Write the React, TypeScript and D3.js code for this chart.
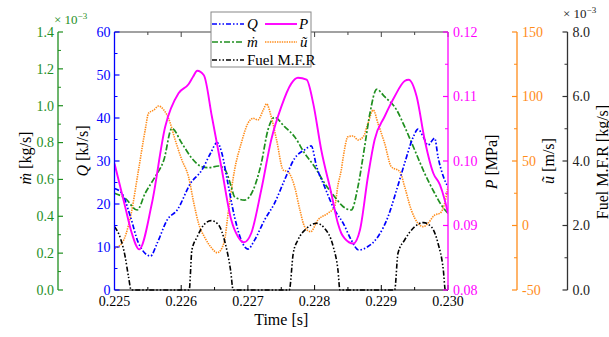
import React from 'react';
import * as d3 from 'd3';

// ---------- data ----------
const timeTicks = [0.225, 0.226, 0.227, 0.228, 0.229, 0.23];
const qTicks = [0, 10, 20, 30, 40, 50, 60];
const mTicks = [0, 0.2e-3, 0.4e-3, 0.6e-3, 0.8e-3, 1.0e-3, 1.2e-3, 1.4e-3];
const pTicks = [0.08, 0.09, 0.1, 0.11, 0.12];
const uTicks = [-50, 0, 50, 100, 150];
const fTicks = [0, 2e-3, 4e-3, 6e-3, 8e-3];

const qT = [0.225, 0.22511, 0.22524, 0.22536, 0.22554, 0.22564, 0.22579, 0.22594, 0.22614, 0.22631, 0.22644, 0.22654, 0.22661, 0.22669, 0.2268, 0.2269, 0.227, 0.2271, 0.22725, 0.2274, 0.22755, 0.2277, 0.22785, 0.22795, 0.22803, 0.22815, 0.2283, 0.22843, 0.22855, 0.22866, 0.2288, 0.22895, 0.2291, 0.22923, 0.22935, 0.22948, 0.22955, 0.22963, 0.2297, 0.2298, 0.22985, 0.22993, 0.23];
const qV = [23.6, 22.5, 17.0, 10.9, 7.9, 10.9, 16.3, 18.6, 24.8, 27.9, 31.8, 34.3, 31.8, 25.6, 17.0, 11.6, 9.5, 11.6, 16.3, 20.2, 25.6, 30.6, 32.6, 33.5, 28.7, 24.0, 18.6, 15.5, 11.6, 9.3, 10.1, 12.4, 17.0, 23.3, 29.5, 35.6, 37.4, 35.6, 33.7, 35.3, 31.0, 26.4, 24.0];

const pT = [0.225, 0.22516, 0.22526, 0.22537, 0.22556, 0.22576, 0.22596, 0.22611, 0.22618, 0.22624, 0.22634, 0.22646, 0.22661, 0.22675, 0.22685, 0.22694, 0.22705, 0.2272, 0.22735, 0.2275, 0.22765, 0.22775, 0.22788, 0.22798, 0.2281, 0.22825, 0.22835, 0.2284, 0.22845, 0.22858, 0.22868, 0.2288, 0.2289, 0.22905, 0.2292, 0.22935, 0.22941, 0.22953, 0.22965, 0.22978, 0.22988, 0.22995, 0.23];
const pV = [0.0996, 0.0929, 0.0888, 0.0863, 0.0934, 0.1053, 0.1105, 0.1119, 0.1131, 0.114, 0.1133, 0.1069, 0.0986, 0.0909, 0.0883, 0.0874, 0.0888, 0.0955, 0.1033, 0.1084, 0.112, 0.1129, 0.1126, 0.1089, 0.1017, 0.095, 0.0903, 0.0888, 0.088, 0.0872, 0.0893, 0.0976, 0.1033, 0.1069, 0.11, 0.1124, 0.1126, 0.11, 0.1033, 0.0981, 0.0963, 0.094, 0.0919];

const mT = [0.225, 0.22516, 0.22534, 0.22546, 0.22561, 0.22574, 0.22586, 0.22601, 0.22616, 0.22631, 0.22641, 0.22656, 0.22666, 0.22675, 0.2268, 0.22695, 0.22708, 0.2272, 0.2273, 0.2274, 0.22755, 0.2277, 0.22785, 0.228, 0.22815, 0.2283, 0.22843, 0.22855, 0.22865, 0.22875, 0.22883, 0.22893, 0.22905, 0.22923, 0.22935, 0.2295, 0.22965, 0.2298, 0.2299, 0.23];
const mV = [0.525, 0.498, 0.434, 0.525, 0.615, 0.705, 0.877, 0.796, 0.715, 0.669, 0.664, 0.673, 0.651, 0.561, 0.506, 0.488, 0.543, 0.687, 0.868, 0.937, 0.886, 0.832, 0.742, 0.669, 0.579, 0.506, 0.452, 0.434, 0.561, 0.778, 0.959, 1.089, 1.049, 0.977, 0.886, 0.76, 0.633, 0.525, 0.461, 0.416].map(v => v * 1e-3);

const uT = [0.225, 0.22511, 0.22524, 0.22536, 0.22546, 0.22551, 0.22559, 0.22566, 0.22574, 0.22581, 0.22591, 0.22601, 0.22611, 0.22619, 0.22626, 0.22636, 0.22646, 0.22654, 0.22664, 0.22671, 0.2268, 0.2269, 0.227, 0.22708, 0.22715, 0.22723, 0.22728, 0.22735, 0.22743, 0.22753, 0.2276, 0.2277, 0.22778, 0.22785, 0.22794, 0.22805, 0.2282, 0.2283, 0.22835, 0.2284, 0.22843, 0.2285, 0.22858, 0.22865, 0.22873, 0.2288, 0.22888, 0.22895, 0.22905, 0.22915, 0.22928, 0.22935, 0.22945, 0.22955, 0.22963, 0.2297, 0.2298, 0.22988, 0.22995, 0.23];
const uV = [-17.7, -13.8, 6.8, 43.0, 74.0, 87.0, 89.5, 92.6, 89.5, 83.1, 66.3, 50.8, 37.8, 17.2, 1.7, -9.9, -17.7, -21.1, -13.8, 12.0, 43.0, 63.7, 79.2, 83.1, 81.8, 89.5, 94.2, 84.3, 66.3, 43.0, 41.7, 30.1, 12.0, -0.9, -4.8, 4.3, 9.5, 14.6, 31.4, 43.0, 53.3, 68.8, 69.4, 66.3, 68.8, 79.2, 89.5, 79.2, 63.7, 45.6, 41.7, 30.1, 12.0, 1.7, -0.9, 1.7, 8.1, 9.5, 17.2, 30.1];

const fT = [0.225, 0.22509, 0.22516, 0.22521, 0.22525, 0.22612, 0.22616, 0.22624, 0.22634, 0.22645, 0.22656, 0.22666, 0.22674, 0.22678, 0.22762, 0.22768, 0.22775, 0.22788, 0.22803, 0.22815, 0.22828, 0.22835, 0.22838, 0.2292, 0.22925, 0.22935, 0.2295, 0.22963, 0.22975, 0.22985, 0.22993, 0.22996, 0.23];
const fV = [1.96, 1.6, 1.03, 0.41, 0, 0, 1.24, 1.65, 2.02, 2.15, 2.02, 1.45, 0.62, 0, 0, 1.14, 1.55, 1.91, 2.07, 1.91, 1.34, 0.62, 0, 0, 1.14, 1.55, 1.96, 2.09, 1.96, 1.45, 0.62, 0, 0].map(v => v * 1e-3);

// ---------- layout ----------
const W = 609, H = 337;
const L = 114.5, R = 448, T = 32, B = 290;
const FONT = "'Liberation Serif', 'DejaVu Serif', 'Times New Roman', Times, serif";

const BLUE = '#0000ff', MAG = '#ff00ff', GREEN = '#1f8f1f', ORANGE = '#ff8c1a', BLACK = '#000';
const DDOT = '5,2,1.5,2,1.5,2';
const DDASH = '6,2,2,2';
const DOT = '1.4,1';

const x = d3.scaleLinear().domain([0.225, 0.23]).range([L, R]);
const yQ = d3.scaleLinear().domain([0, 60]).range([B, T]);
const yP = d3.scaleLinear().domain([0.08, 0.12]).range([B, T]);
const yU = d3.scaleLinear().domain([-50, 150]).range([B, T]);
const yM = d3.scaleLinear().domain([0, 1.4e-3]).range([B, T]);
const yF = d3.scaleLinear().domain([0, 8e-3]).range([B, T]);

function path(ts: number[], vs: number[], ys: d3.ScaleLinear<number, number>) {
  const line = d3.line<number>().x((_, i) => x(ts[i])).y(d => ys(d)).curve(d3.curveMonotoneX);
  return line(vs) || '';
}

function minors(ticks: number[]) {
  const out: number[] = [];
  for (let i = 0; i < ticks.length - 1; i++) out.push((ticks[i] + ticks[i + 1]) / 2);
  return out;
}

type VProps = {
  x0: number; scale: d3.ScaleLinear<number, number>; ticks: number[]; fmt: (v: number) => string;
  color: string; labelSide: 'left' | 'right'; tickDir: number; labelColor?: string;
};
function VAxis({ x0, scale, ticks, fmt, color, labelSide, tickDir, labelColor }: VProps) {
  const mn = minors(ticks);
  return (
    <g>
      <line x1={x0} x2={x0} y1={scale(ticks[0])} y2={scale(ticks[ticks.length - 1])} stroke={color} strokeWidth={1.3} />
      {ticks.map((t, i) => (
        <line key={'M' + i} x1={x0} x2={x0 + tickDir * 5} y1={scale(t)} y2={scale(t)} stroke={color} strokeWidth={1.2} />
      ))}
      {mn.map((t, i) => (
        <line key={'m' + i} x1={x0} x2={x0 + tickDir * 3} y1={scale(t)} y2={scale(t)} stroke={color} strokeWidth={1} />
      ))}
      {ticks.map((t, i) => (
        <text key={'t' + i} x={labelSide === 'left' ? x0 - 4 : x0 + 5} y={scale(t)} dy="0.35em"
          textAnchor={labelSide === 'left' ? 'end' : 'start'} fill={labelColor || color}
          style={{ fontFamily: FONT, fontSize: 14 }}>
          {fmt(t)}
        </text>
      ))}
    </g>
  );
}

function RotLabel({ x0, y0, children }: { x0: number; y0: number; children: React.ReactNode }) {
  return (
    <text transform={`translate(${x0},${y0}) rotate(-90)`} textAnchor="middle" dy="0.35em" fill="#000"
      style={{ fontFamily: FONT, fontSize: 16 }}>
      {children}
    </text>
  );
}

export default function App() {
  const tMinor = minors(timeTicks);
  const allT = [...timeTicks, ...tMinor];
  return (
    <div style={{ position: 'absolute', left: 0, top: 0 }}>
      <svg width={W} height={H} viewBox={`0 0 ${W} ${H}`} style={{ display: 'block', background: '#fff', fontFamily: FONT }}>
        <defs>
          <clipPath id="plotclip"><rect x={L} y={T - 2} width={R - L} height={B - T + 3} /></clipPath>
        </defs>

        {/* frame top & bottom */}
        <line x1={L} x2={R} y1={T} y2={T} stroke="#444" strokeWidth={1.2} />
        <line x1={L} x2={R} y1={B} y2={B} stroke="#000" strokeWidth={1.2} />
        {allT.map((t, i) => {
          const len = timeTicks.includes(t) ? 5 : 3;
          return (
            <g key={'xt' + i}>
              <line x1={x(t)} x2={x(t)} y1={B} y2={B - len} stroke="#000" strokeWidth={1} />
              <line x1={x(t)} x2={x(t)} y1={T} y2={T + len} stroke="#444" strokeWidth={1} />
            </g>
          );
        })}
        {timeTicks.map((t, i) => (
          <text key={'xl' + i} x={x(t)} y={306} textAnchor="middle" fill="#000" style={{ fontFamily: FONT, fontSize: 14 }}>
            {d3.format('.3f')(t)}
          </text>
        ))}
        <text x={(L + R) / 2} y={325} textAnchor="middle" style={{ fontFamily: FONT, fontSize: 16 }}>Time [s]</text>

        {/* curves */}
        <g clipPath="url(#plotclip)" fill="none">
          <path d={path(uT, uV, yU)} stroke={ORANGE} strokeWidth={1.6} strokeDasharray={DOT} />
          <path d={path(mT, mV, yM)} stroke={GREEN} strokeWidth={1.7} strokeDasharray={DDASH} />
          <path d={path(qT, qV, yQ)} stroke={BLUE} strokeWidth={1.7} strokeDasharray={DDOT} />
          <path d={path(fT, fV, yF)} stroke={BLACK} strokeWidth={1.6} strokeDasharray={DDOT} />
          <path d={path(pT, pV, yP)} stroke={MAG} strokeWidth={1.9} />
        </g>

        {/* axes */}
        <VAxis x0={L} scale={yQ} ticks={qTicks} fmt={v => String(v)} color={BLUE} labelSide="left" tickDir={1} />
        <VAxis x0={R} scale={yP} ticks={pTicks} fmt={v => d3.format('.2f')(v)} color={MAG} labelSide="right" tickDir={-1} />
        <VAxis x0={58} scale={yM} ticks={mTicks} fmt={v => d3.format('.1f')(v * 1e3)} color={GREEN} labelSide="left" tickDir={1} />
        <VAxis x0={517} scale={yU} ticks={uTicks} fmt={v => String(v)} color={ORANGE} labelSide="right" tickDir={-1} />
        <VAxis x0={567.5} scale={yF} ticks={fTicks} fmt={v => d3.format('.1f')(v * 1e3)} color="#333" labelSide="right" tickDir={-1} labelColor="#222" />

        {/* multipliers */}
        <text x={54} y={24} fill={GREEN} style={{ fontFamily: FONT, fontSize: 13 }}>× 10<tspan dy={-5} style={{ fontSize: 9 }}>−3</tspan></text>
        <text x={563} y={18} fill="#222" style={{ fontFamily: FONT, fontSize: 13 }}>× 10<tspan dy={-5} style={{ fontSize: 9 }}>−3</tspan></text>

        {/* axis titles */}
        <RotLabel x0={25} y0={158}><tspan fontStyle="italic">ṁ</tspan> [kg/s]</RotLabel>
        <RotLabel x0={82} y0={151}><tspan fontStyle="italic">Q</tspan> [kJ/s]</RotLabel>
        <RotLabel x0={491} y0={162}><tspan fontStyle="italic">P</tspan> [MPa]</RotLabel>
        <RotLabel x0={548} y0={161}><tspan fontStyle="italic">ũ</tspan> [m/s]</RotLabel>
        <RotLabel x0={602} y0={162}>Fuel M.F.R [kg/s]</RotLabel>

        {/* legend */}
        <g style={{ fontFamily: FONT, fontSize: 15 }}>
          <rect x={211} y={12} width={100} height={55} fill="#fff" stroke="#888" strokeWidth={1} />
          <line x1={212} x2={244} y1={24} y2={24} stroke={BLUE} strokeWidth={1.7} strokeDasharray={DDOT} />
          <text x={247} y={24} dy="0.35em" fontStyle="italic">Q</text>
          <line x1={265} x2={297} y1={24} y2={24} stroke={MAG} strokeWidth={1.9} />
          <text x={299} y={24} dy="0.35em" fontStyle="italic">P</text>
          <line x1={212} x2={244} y1={42} y2={42} stroke={GREEN} strokeWidth={1.7} strokeDasharray={DDASH} />
          <text x={247} y={42} dy="0.35em" fontStyle="italic">ṁ</text>
          <line x1={265} x2={297} y1={42} y2={42} stroke={ORANGE} strokeWidth={1.6} strokeDasharray={DOT} />
          <text x={300} y={42} dy="0.35em" fontStyle="italic">ũ</text>
          <line x1={212} x2={244} y1={60} y2={60} stroke={BLACK} strokeWidth={1.6} strokeDasharray={DDOT} />
          <text x={247} y={60} dy="0.35em">Fuel M.F.R</text>
        </g>
      </svg>
    </div>
  );
}
